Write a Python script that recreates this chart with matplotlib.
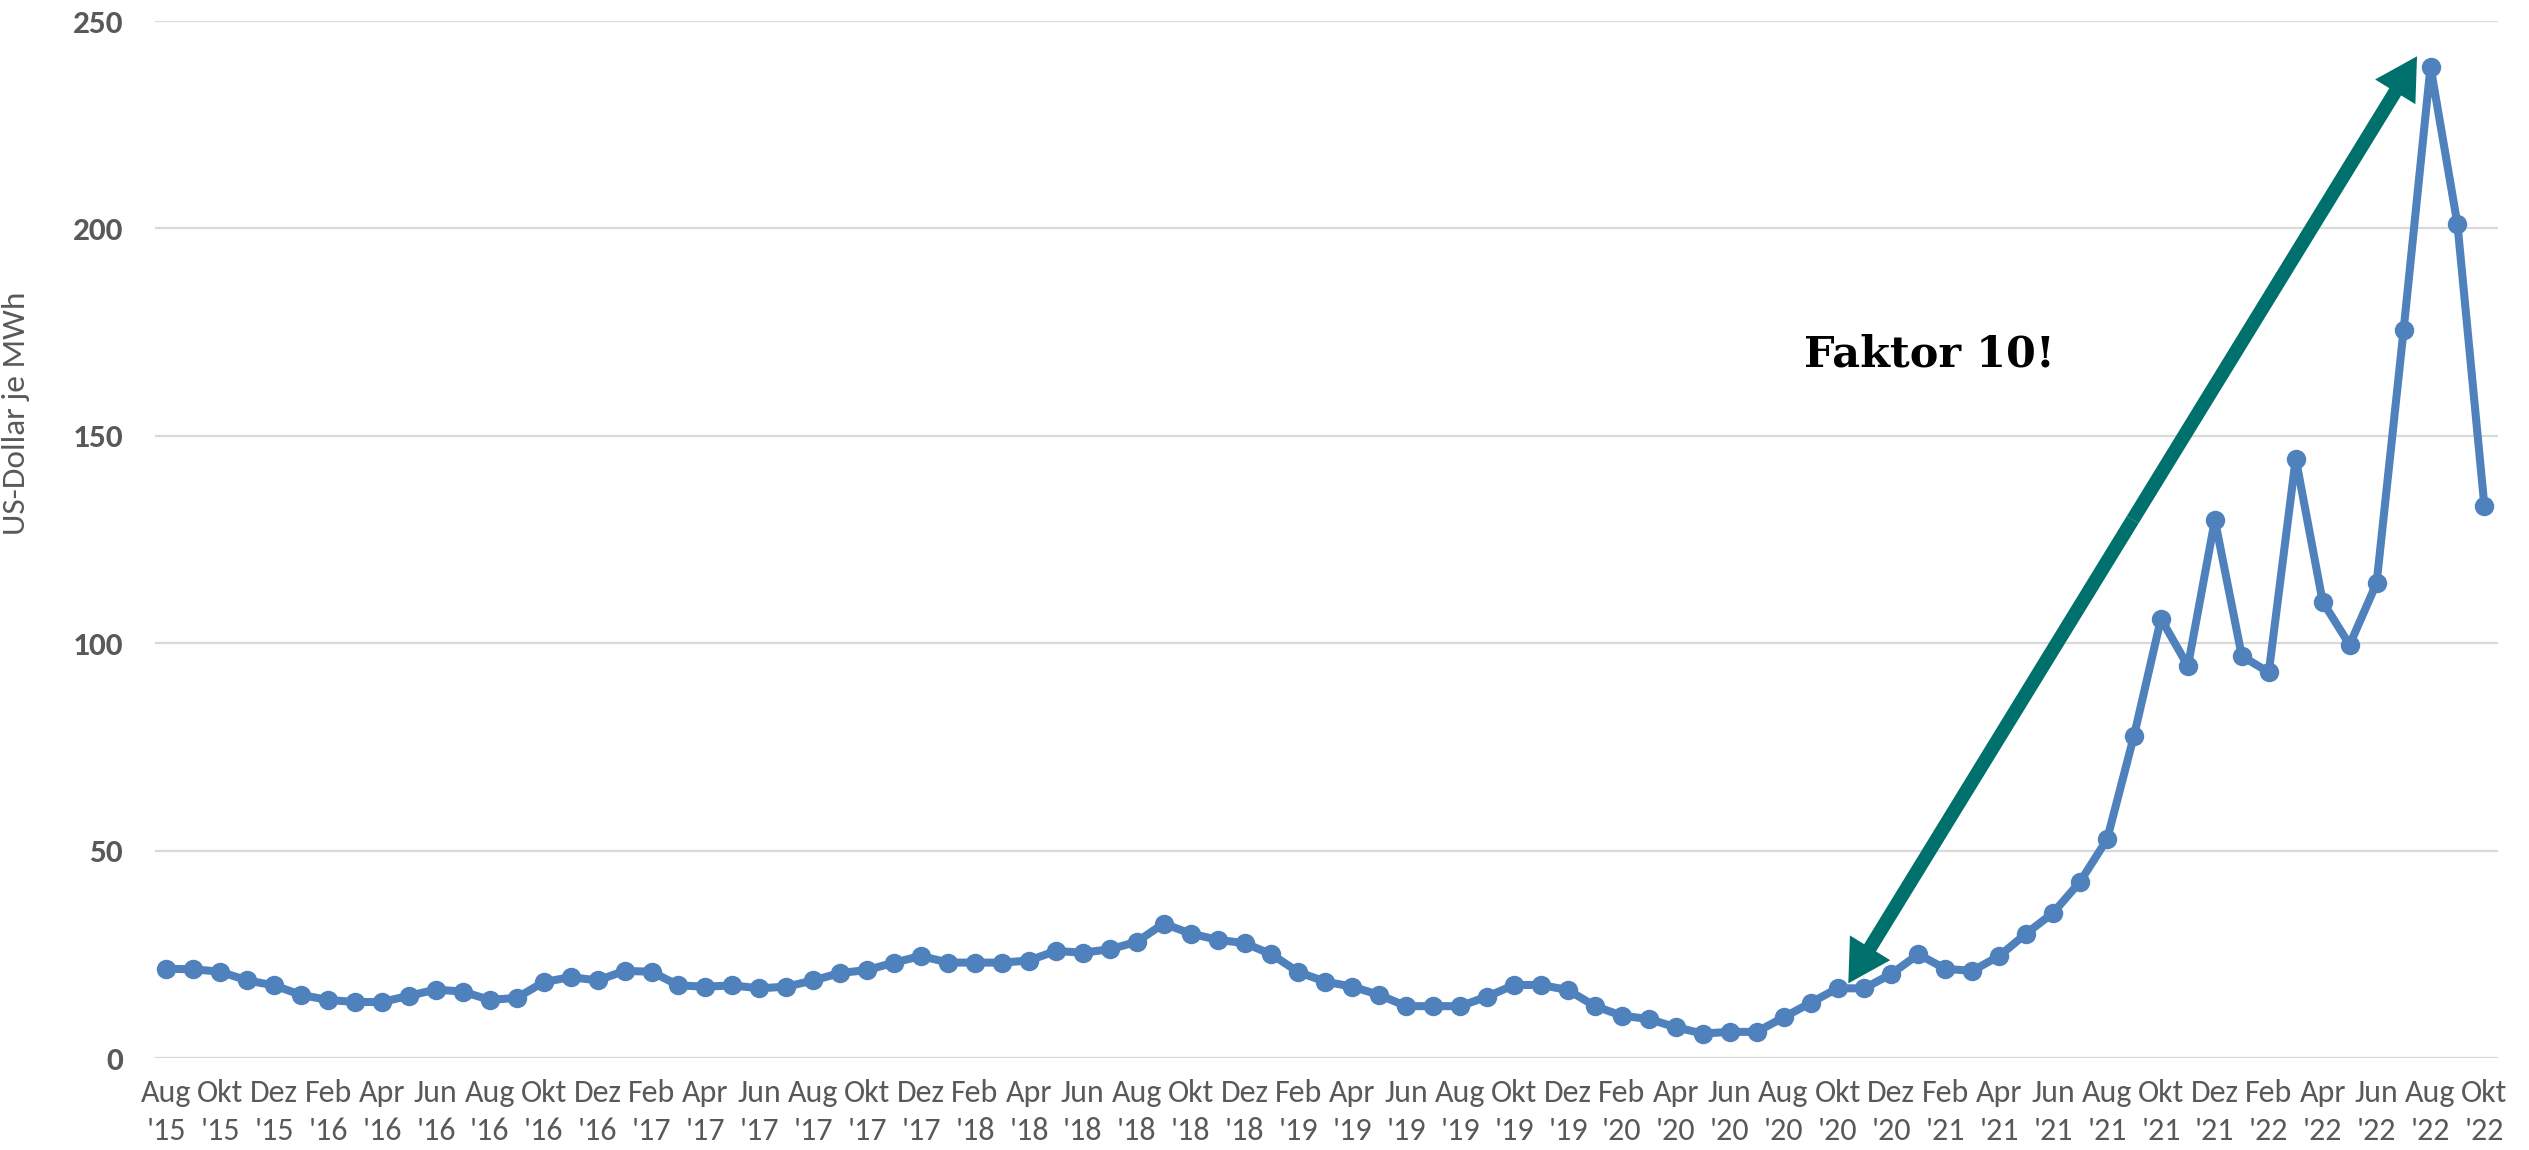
import numpy as np
import matplotlib
matplotlib.use("Agg")
import matplotlib.pyplot as plt
from matplotlib import font_manager
from matplotlib.patches import FancyArrowPatch

# monthly price, Aug 2015 .. Okt 2022 (US-Dollar je MWh)
start_year, start_month = 2015, 8
prices = [
    21.5, 21.4, 20.8, 18.7, 17.5,                                      # 2015
    15.2, 14.0, 13.5, 13.5, 15.0, 16.5, 16.0, 14.0, 14.5, 18.3, 19.5, 18.7,  # 2016
    21.0, 20.8, 17.5, 17.2, 17.5, 16.8, 17.2, 18.7, 20.5, 21.2, 23.0, 24.6,  # 2017
    23.0, 23.0, 23.0, 23.5, 25.8, 25.4, 26.2, 28.0, 32.4, 30.0, 28.5, 27.7,  # 2018
    25.0, 20.7, 18.4, 17.2, 15.2, 12.5, 12.5, 12.5, 14.8, 17.6, 17.6, 16.4,  # 2019
    12.5, 10.2, 9.4, 7.4, 5.9, 6.3, 6.3, 9.8, 13.3, 16.8, 16.8, 20.3,        # 2020
    25.0, 21.5, 21.0, 24.6, 30.0, 35.0, 42.5, 52.7, 77.7, 105.9, 94.5, 129.7,  # 2021
    96.9, 93.0, 144.5, 110.0, 99.6, 114.5, 175.4, 239.0, 201.0, 133.0,       # 2022
]
month_names = ["Jan", "Feb", "Mrz", "Apr", "Mai", "Jun",
               "Jul", "Aug", "Sep", "Okt", "Nov", "Dez"]
y_ticks = [0, 50, 100, 150, 200, 250]

# arrow "Faktor 10!" from the 2020 low to the 2022 peak
arrow_from = (62.4, 18.0)
arrow_to = (83.5, 241.5)
note_text = "Faktor 10!"
note_pos = (65.4, 169.5)

fonts = font_manager.fontManager.ttflist
installed = {f.name for f in fonts}
def pick(*names):
    for n in names:
        if n in installed:
            return n
    return "DejaVu Sans"

sans = pick("Carlito", "Open Sans")
# serif with a real bold face (Georgia look-alike if possible)
serif = "DejaVu Serif"
for cand in ("Gelasio", "Merriweather"):
    if any(f.name == cand and f.weight in (700, "bold") for f in fonts):
        serif = cand
        break

line_color = "#4F81BD"
teal = "#00706C"
grey_text = "#595959"

x = np.arange(len(prices))
labels = []
for i in x:
    m = (start_month - 1 + i) % 12
    yr = start_year + (start_month - 1 + i) // 12
    labels.append(f"{month_names[m]}\n'{yr % 100:02d}")

fig = plt.figure(figsize=(25.29, 11.5), dpi=100)
ax = fig.add_axes([0.0613, 0.080, 0.9264, 0.9017])

ax.plot(x, prices, color=line_color, lw=5.8, marker="o", ms=14,
        markeredgewidth=0, zorder=3, clip_on=False)

ax.set_xlim(-0.42, 86.5)
ax.set_ylim(0, 250)
ax.set_yticks(y_ticks)
ax.grid(axis="y", color="#D9D9D9", lw=1.6)
ax.set_axisbelow(True)
for s in ax.spines.values():
    s.set_visible(False)

ax.set_xticks(x[::2])
ax.set_xticklabels(labels[::2], fontsize=23, color=grey_text,
                   family=sans, linespacing=1.45)
ax.tick_params(axis="x", length=0, pad=15)
ax.tick_params(axis="y", length=0, pad=23)
for t in ax.get_yticklabels():
    t.set_fontweight("bold")
    t.set_fontsize(24)
    t.set_family(sans)
    t.set_color(grey_text)

ax.set_ylabel("US-Dollar je MWh", fontsize=24, color=grey_text, family=sans)
ax.yaxis.set_label_coords(-0.0533, 0.622)

# double-headed arrow drawn as two filled arrows meeting in the middle
mid = ((arrow_from[0] + arrow_to[0]) / 2, (arrow_from[1] + arrow_to[1]) / 2)
style = "simple,head_length=3.0,head_width=3.4,tail_width=1.0"
for end in (arrow_from, arrow_to):
    ax.add_patch(FancyArrowPatch(mid, end, arrowstyle=style, mutation_scale=10,
                                 color=teal, lw=0, shrinkA=0, shrinkB=0,
                                 zorder=4, clip_on=False))

ax.text(note_pos[0], note_pos[1], note_text, fontsize=31, fontweight="bold",
        family=serif, ha="center", va="center", color="black")

fig.savefig("out.png", dpi=100)
